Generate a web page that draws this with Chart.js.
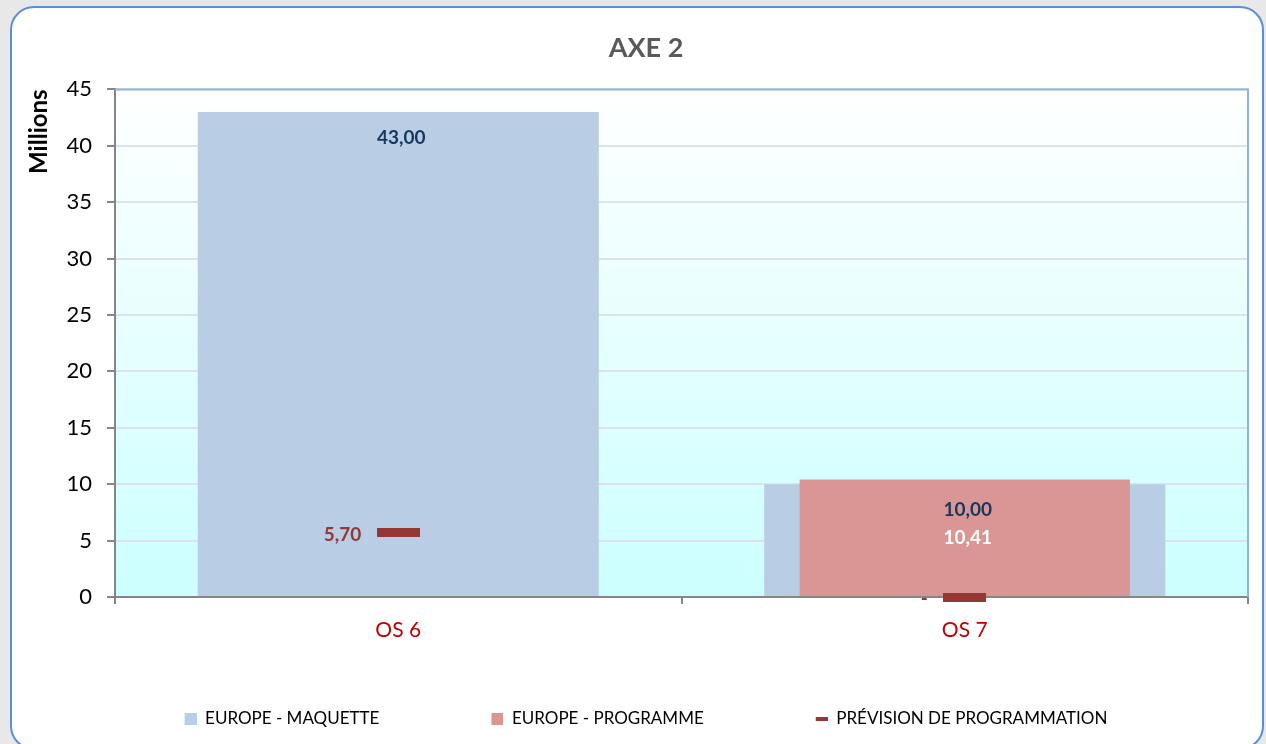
<!DOCTYPE html>
<html>
<head>
<meta charset="utf-8">
<script src="https://cdn.jsdelivr.net/npm/chart.js@4.4.0/dist/chart.umd.min.js"></script>
<style>
  html, body { margin: 0; padding: 0; width: 1266px; height: 744px; overflow: hidden; background: #e8e8e8; }
  #frame { position: absolute; left: 10px; top: 6px; width: 1250px; height: 740px;
           border: 2px solid #5a8ed6; border-radius: 24px; background: #fff; }
  #wrap { position: absolute; left: 0; top: 0; width: 1266px; height: 744px; }
</style>
</head>
<body>
<div id="frame"></div>
<div id="wrap"><canvas id="axeChart" width="1266" height="744"></canvas></div>
<script>
// Données (en millions)
const categories = ['OS 6', 'OS 7'];
const seriesNames = ['EUROPE - MAQUETTE', 'EUROPE - PROGRAMME', 'PRÉVISION DE PROGRAMMATION'];
const maquette = [43.00, 10.00];
const programme = [null, 10.41];
const prevision = [5.70, 0];

const colMaquette = '#b9cde5';
const colProgramme = '#d99694';
const colPrevision = '#953735';

// largeur de la case de légende (icône calée à droite, le reste sert d'espacement)
const LEGEND_SLOT = 114;

// petit rectangle plein, utilisé comme pointStyle
function makeDash(w, h, color, slot) {
  const c = document.createElement('canvas');
  c.width = slot || w; c.height = h;
  const g = c.getContext('2d');
  g.fillStyle = color;
  g.fillRect(c.width - w, 0, w, h);
  return c;
}

const legendIcons = [
  makeDash(12, 12, colMaquette, LEGEND_SLOT),
  makeDash(12, 12, colProgramme, LEGEND_SLOT),
  makeDash(12, 4, colPrevision, LEGEND_SLOT)
];

// format français : 5,70 ; zéro affiché "-"
const fmt = v => (v === 0 ? '-' : v.toFixed(2).replace('.', ','));

// fond dégradé de la zone de tracé + cadre bleu haut/droite
const plotBackground = {
  id: 'plotBackground',
  beforeDraw(chart) {
    const { ctx, chartArea: a } = chart;
    const grad = ctx.createLinearGradient(0, a.top, 0, a.bottom);
    grad.addColorStop(0, '#ffffff');
    grad.addColorStop(1, '#ccffff');
    ctx.save();
    ctx.fillStyle = grad;
    ctx.fillRect(a.left, a.top, a.right - a.left, a.bottom - a.top);
    ctx.restore();
  },
  afterDraw(chart) {
    const { ctx, chartArea: a } = chart;
    ctx.save();
    ctx.strokeStyle = '#8db3e2';
    ctx.lineWidth = 2;
    ctx.beginPath();
    ctx.moveTo(a.left, a.top);
    ctx.lineTo(a.right, a.top);
    ctx.lineTo(a.right, a.bottom);
    ctx.stroke();
    ctx.restore();
  }
};

// étiquettes de valeurs
const valueLabels = {
  id: 'valueLabels',
  afterDatasetsDraw(chart) {
    const ctx = chart.ctx;
    ctx.save();
    ctx.font = 'bold 19px Lato';
    ctx.textBaseline = 'middle';

    ctx.textAlign = 'center';
    ctx.fillStyle = '#17375e';
    chart.getDatasetMeta(0).data.forEach((bar, i) => {
      if (maquette[i] == null) return;
      ctx.fillText(fmt(maquette[i]), bar.x + 3, bar.y + 26);
    });

    ctx.fillStyle = '#ffffff';
    chart.getDatasetMeta(1).data.forEach((bar, i) => {
      if (programme[i] == null) return;
      ctx.fillText(fmt(programme[i]), bar.x + 3, (bar.y + bar.base) / 2);
    });

    ctx.textAlign = 'right';
    ctx.fillStyle = colPrevision;
    chart.getDatasetMeta(2).data.forEach((pt, i) => {
      if (prevision[i] == null) return;
      ctx.fillText(fmt(prevision[i]), pt.x - 37, pt.y + 2);
    });
    ctx.restore();
  }
};

// recentrer titre et légende comme dans l'original
const boxShift = {
  id: 'boxShift',
  afterLayout(chart) {
    if (chart.titleBlock) {
      chart.titleBlock.left += 18;
      chart.titleBlock.right += 18;
    }
    if (chart.legend) {
      chart.legend.left -= 33;
      chart.legend.right -= 33;
    }
  }
};

new Chart(document.getElementById('axeChart'), {
  data: {
    labels: categories,
    datasets: [
      { type: 'bar', label: seriesNames[0], data: maquette, backgroundColor: colMaquette,
        grouped: false, barPercentage: 0.708, categoryPercentage: 1, order: 2 },
      { type: 'bar', label: seriesNames[1], data: programme, backgroundColor: colProgramme,
        grouped: false, barPercentage: 0.583, categoryPercentage: 1, order: 1 },
      { type: 'line', label: seriesNames[2], data: prevision, showLine: false,
        pointStyle: makeDash(43, 9, colPrevision), pointRadius: 10, clip: false, order: 0 }
    ]
  },
  options: {
    responsive: false,
    animation: false,
    devicePixelRatio: 1,
    layout: { padding: { left: 8, right: 18, top: 0, bottom: 7 } },
    scales: {
      x: {
        grid: { drawOnChartArea: false, tickLength: 7, color: '#868686', lineWidth: 2 },
        border: { color: '#868686', width: 2 },
        ticks: { color: '#c00000', font: { family: 'Lato', size: 21 }, padding: 14 },
        afterFit(scale) { scale.height = 103; }
      },
      y: {
        min: 0, max: 45,
        ticks: { stepSize: 5, color: '#000', font: { family: 'Lato', size: 22 }, padding: 15 },
        grid: { color: '#dde1ee', lineWidth: 2, tickLength: 8, tickColor: '#868686' },
        border: { color: '#868686', width: 2 },
        title: { display: true, text: 'Millions', color: '#000', align: 'end',
                 font: { family: 'Lato', size: 24, weight: 'bold' }, padding: { top: 17, bottom: 0 } },
        afterFit(scale) { scale.width = 107; }
      }
    },
    plugins: {
      title: { display: true, text: 'AXE 2', color: '#595959',
               font: { family: 'Lato', size: 27, weight: 'bold' }, padding: { top: 32, bottom: 25 } },
      legend: {
        position: 'bottom',
        labels: {
          usePointStyle: true, pointStyleWidth: LEGEND_SLOT, color: '#262626', padding: 10,
          font: { family: 'Lato', size: 17 },
          generateLabels(chart) {
            return chart.data.datasets.map((ds, i) => ({
              text: ds.label, pointStyle: legendIcons[i], fillStyle: 'transparent',
              strokeStyle: 'transparent', lineWidth: 0, hidden: false, datasetIndex: i
            }));
          }
        }
      },
      tooltip: { enabled: false }
    }
  },
  plugins: [plotBackground, valueLabels, boxShift]
});
</script>
</body>
</html>
